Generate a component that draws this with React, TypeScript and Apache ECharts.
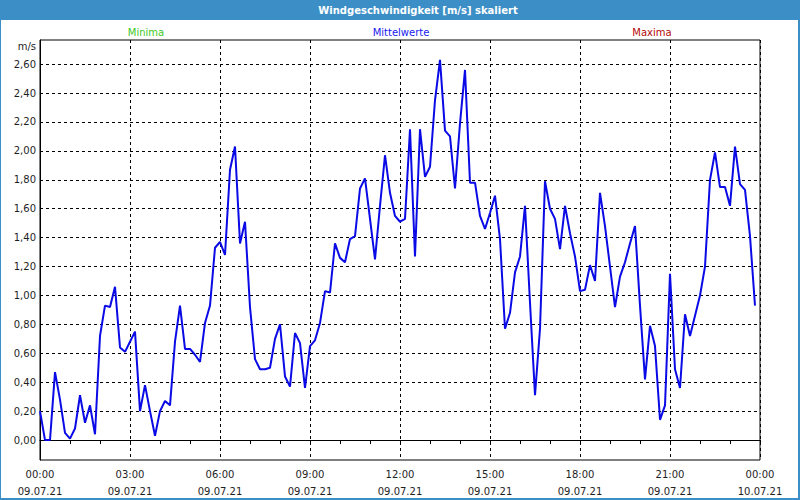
import React, { useEffect, useRef } from "react";
import * as echarts from "echarts";

// Tick labels of the time axis (every 3 hours)
const timeLabels = ["00:00", "03:00", "06:00", "09:00", "12:00", "15:00", "18:00", "21:00", "00:00"];
const dateLabels = ["09.07.21", "09.07.21", "09.07.21", "09.07.21", "09.07.21", "09.07.21", "09.07.21", "09.07.21", "10.07.21"];

// Y axis tick values (m/s)
const yTicks = [0, 0.2, 0.4, 0.6, 0.8, 1.0, 1.2, 1.4, 1.6, 1.8, 2.0, 2.2, 2.4, 2.6];

// Legend entries
const legendNames = ["Minima", "Mittelwerte", "Maxima"];
const legendColors = ["#3cc81e", "#2020f0", "#b40808"];

// Mean wind speed, 10-minute values from 00:00 to 23:50 (m/s)
const meanValues = [
  0.20, 0.00, 0.00, 0.47, 0.28, 0.05, 0.01, 0.08, 0.31, 0.12, 0.24, 0.04,
  0.72, 0.93, 0.92, 1.06, 0.64, 0.61, 0.68, 0.75, 0.20, 0.38, 0.20, 0.03,
  0.20, 0.27, 0.24, 0.68, 0.93, 0.63, 0.63, 0.59, 0.54, 0.81, 0.93, 1.33,
  1.37, 1.28, 1.87, 2.03, 1.36, 1.51, 0.92, 0.56, 0.49, 0.49, 0.50, 0.70,
  0.80, 0.44, 0.37, 0.74, 0.67, 0.36, 0.65, 0.69, 0.81, 1.03, 1.02, 1.36,
  1.26, 1.23, 1.39, 1.41, 1.74, 1.81, 1.53, 1.25, 1.62, 1.97, 1.71, 1.55,
  1.51, 1.53, 2.15, 1.27, 2.15, 1.82, 1.89, 2.35, 2.63, 2.14, 2.10, 1.74,
  2.19, 2.56, 1.78, 1.78, 1.55, 1.46, 1.57, 1.69, 1.39, 0.77, 0.88, 1.16,
  1.27, 1.62, 0.95, 0.31, 0.77, 1.79, 1.60, 1.53, 1.32, 1.62, 1.43, 1.27,
  1.03, 1.04, 1.21, 1.10, 1.71, 1.48, 1.20, 0.92, 1.13, 1.23, 1.36, 1.48,
  0.93, 0.42, 0.79, 0.65, 0.14, 0.24, 1.15, 0.49, 0.36, 0.87, 0.72, 0.86,
  1.00, 1.20, 1.80, 1.99, 1.75, 1.75, 1.62, 2.03, 1.77, 1.73, 1.41, 0.93,
];

const FONT = '"DejaVu Sans", Verdana, sans-serif';
const BAR_BLUE = "#3c8fc6";

export default function App() {
  const ref = useRef<HTMLDivElement>(null);

  useEffect(() => {
    document.body.style.margin = "0";
    if (!ref.current) return;
    const chart = echarts.init(ref.current, undefined, { renderer: "svg" });

    const lineData = meanValues.map((v, i) => [(i * 10) / 60, v]);

    chart.setOption({
      animation: false,
      backgroundColor: "#ffffff",
      textStyle: { fontFamily: FONT },
      grid: {
        left: 40,
        top: 40,
        width: 720,
        height: 421,
        show: true,
        borderColor: "#000",
        borderWidth: 1,
        backgroundColor: "#ffffff",
        containLabel: false,
      },
      xAxis: {
        type: "value",
        min: 0,
        max: 24,
        interval: 3,
        axisLine: { show: true, lineStyle: { color: "#000", width: 1 } },
        axisTick: { show: true, length: 4, lineStyle: { color: "#000" } },
        minorTick: { show: true, splitNumber: 3, length: 4, lineStyle: { color: "#000" } },
        splitLine: { show: true, lineStyle: { color: "#000", type: [3, 3], width: 1 } },
        axisLabel: {
          fontFamily: FONT,
          fontSize: 10,
          color: "#1e1e1e",
          lineHeight: 17,
          margin: 6,
          formatter: (v: number) => {
            const i = Math.round(v / 3);
            return timeLabels[i] + "\n" + dateLabels[i];
          },
        },
      },
      yAxis: {
        type: "value",
        min: -0.138,
        max: 2.767,
        axisLine: { show: true, lineStyle: { color: "#000", width: 1 } },
        axisTick: { show: false, customValues: yTicks },
        splitLine: { show: true, lineStyle: { color: "#000", type: [3, 3], width: 1 } },
        axisLabel: {
          customValues: yTicks,
          fontFamily: FONT,
          fontSize: 10,
          color: "#1e1e1e",
          margin: 4,
          formatter: (v: number) => v.toFixed(2).replace(".", ","),
        },
      },
      series: [
        {
          name: "Mittelwerte",
          type: "line",
          data: lineData,
          showSymbol: false,
          symbol: "none",
          lineStyle: { color: "#0a0ae6", width: 2 },
          itemStyle: { color: "#0a0ae6" },
          z: 3,
        },
      ],
      graphic: [
        { type: "rect", shape: { x: 0, y: 0, width: 800, height: 20 }, style: { fill: BAR_BLUE }, silent: true },
        { type: "rect", shape: { x: 0, y: 0, width: 1, height: 500 }, style: { fill: BAR_BLUE }, silent: true },
        { type: "rect", shape: { x: 798, y: 0, width: 2, height: 500 }, style: { fill: BAR_BLUE }, silent: true },
        { type: "rect", shape: { x: 0, y: 498, width: 800, height: 2 }, style: { fill: BAR_BLUE }, silent: true },
        {
          type: "text",
          x: 418,
          y: 10,
          style: {
            text: "Windgeschwindigkeit [m/s] skaliert",
            font: `bold 10px ${FONT}`,
            fill: "#ffffff",
            textAlign: "center",
            textVerticalAlign: "middle",
          },
          silent: true,
        },
        {
          type: "text",
          x: 146,
          y: 32,
          style: { text: legendNames[0], font: `10px ${FONT}`, fill: legendColors[0], textAlign: "center", textVerticalAlign: "middle" },
        },
        {
          type: "text",
          x: 401,
          y: 32,
          style: { text: legendNames[1], font: `10px ${FONT}`, fill: legendColors[1], textAlign: "center", textVerticalAlign: "middle" },
        },
        {
          type: "text",
          x: 652,
          y: 32,
          style: { text: legendNames[2], font: `10px ${FONT}`, fill: legendColors[2], textAlign: "center", textVerticalAlign: "middle" },
        },
        {
          type: "text",
          x: 36,
          y: 46,
          style: { text: "m/s", font: `10px ${FONT}`, fill: "#1e1e1e", textAlign: "right", textVerticalAlign: "middle" },
        },
      ],
    });

    return () => {
      chart.dispose();
    };
  }, []);

  return <div ref={ref} style={{ position: "fixed", left: 0, top: 0, width: 800, height: 500 }} />;
}
